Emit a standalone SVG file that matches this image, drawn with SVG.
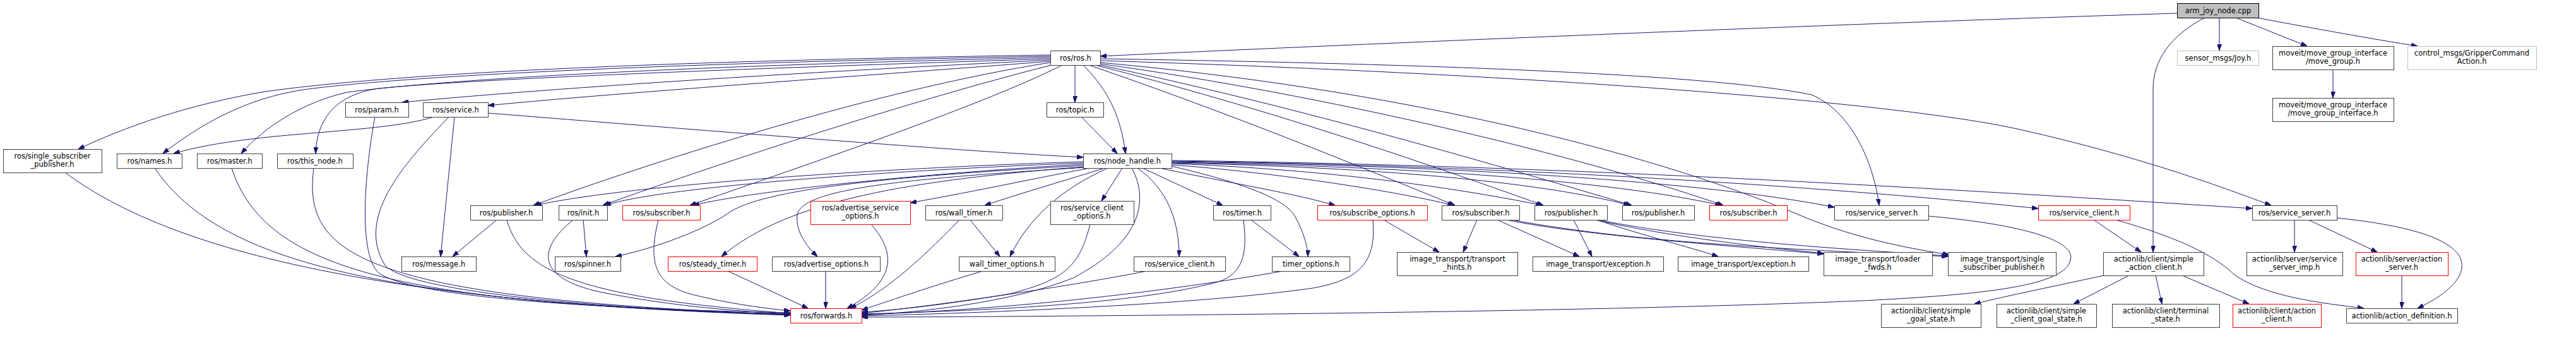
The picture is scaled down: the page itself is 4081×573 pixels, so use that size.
<svg xmlns="http://www.w3.org/2000/svg" width="4081" height="573" viewBox="0 0 4081 573">
<style>
.n rect{fill:#fff;stroke:#404040;stroke-width:1}
.n.r rect{stroke:#ff0000}
.n.g rect{stroke:#bfbfbf}
.n.root rect{fill:#bfbfbf;stroke:#000}
.n text{font-family:"DejaVu Sans","Liberation Sans",sans-serif;font-size:11.5px;text-anchor:middle;fill:#000}
#edges path{fill:none;stroke:#191970;stroke-width:1;marker-end:url(#a)}
</style>
<defs>
<marker id="a" viewBox="0 0 10 7" refX="10" refY="3.5" markerWidth="10" markerHeight="7" markerUnits="userSpaceOnUse" orient="auto"><path d="M0,0L10,3.5L0,7z" fill="#191970" stroke="#191970" stroke-width="1"/></marker>
</defs>
<rect width="4081" height="573" fill="#fff"/>
<g id="edges">
<path d="M3449,21 C2900,38 2100,72 1743,89"/>
<path d="M3516,28 L3516,80"/>
<path d="M3542,28 L3655,73"/>
<path d="M3575,28 C3660,44 3760,62 3830,73"/>
<path d="M3493,28 C3440,55 3411,95 3411,140 L3411,399"/>
<path d="M3696,110 L3696,155"/>
<path d="M1664,87 C1100,96 650,113 420,145 C300,165 200,200 124,236"/>
<path d="M1664,89 C1100,99 660,118 480,142 C390,156 320,195 258,243"/>
<path d="M1664,91 C1100,104 720,124 550,146 C480,162 420,200 382,243"/>
<path d="M1664,93 C1200,108 760,124 600,140 C530,150 502,190 500,243"/>
<path d="M1664,95 C1300,113 900,137 637,162"/>
<path d="M1664,97 C1400,118 1000,145 773,167"/>
<path d="M1703,103 L1703,162"/>
<path d="M1716,103 C1748,135 1775,175 1783,243"/>
<path d="M1713,185 L1770,243"/>
<path d="M773,179 C1100,205 1500,238 1716,249"/>
<path d="M687,185 C640,200 560,205 480,212 C380,220 320,230 275,243"/>
<path d="M720,185 L698,406"/>
<path d="M711,185 C650,250 560,340 610,420 C650,465 1000,492 1252,497"/>
<path d="M594,185 C580,260 565,400 600,432 C660,475 1000,490 1252,495"/>
<path d="M103,273 C300,420 700,482 1252,499"/>
<path d="M245,266 C350,420 620,478 1252,498"/>
<path d="M367,266 C420,430 640,480 1252,498"/>
<path d="M497,266 C480,400 560,472 1252,498"/>
<path d="M1664,99 C1400,140 1050,250 845,325"/>
<path d="M1666,103 C1400,170 1050,290 955,325"/>
<path d="M1683,103 C1550,170 1250,270 1093,325"/>
<path d="M1743,93 C2200,100 2700,115 2870,150 C2940,180 2970,270 2977,325"/>
<path d="M1743,96 C2400,116 3000,160 3200,205 C3400,250 3530,300 3598,325"/>
<path d="M1743,99 C2200,140 2600,235 2850,340 C2920,370 3000,390 3088,403"/>
<path d="M1743,101 C2100,150 2500,245 2730,325"/>
<path d="M1743,103 C2050,168 2350,255 2585,325"/>
<path d="M1735,103 C2000,170 2250,255 2445,325"/>
<path d="M1725,103 C1950,180 2150,262 2305,325"/>
<path d="M1716,256 C1400,266 1000,292 848,325"/>
<path d="M1716,258 C1400,270 1050,296 958,325"/>
<path d="M1716,260 C1500,272 1200,300 1098,325"/>
<path d="M1716,262 C1400,280 1200,300 1150,340 C1100,372 1020,397 975,406"/>
<path d="M1716,264 C1450,285 1250,315 1143,406"/>
<path d="M1720,265 C1450,282 1270,297 1263,340 C1260,368 1280,392 1295,406"/>
<path d="M1727,266 C1650,280 1550,302 1442,321"/>
<path d="M1750,266 C1690,285 1620,305 1560,325"/>
<path d="M1755,266 C1680,300 1630,345 1600,406"/>
<path d="M1778,266 L1745,318"/>
<path d="M1793,266 C1822,320 1805,385 1700,440 C1600,480 1450,495 1365,499"/>
<path d="M1802,266 C1850,300 1868,350 1868,406"/>
<path d="M1810,266 L1937,325"/>
<path d="M1837,266 C1950,290 2050,306 2115,325"/>
<path d="M1856,263 C1950,285 2030,310 2050,340 C2065,365 2072,392 2072,406"/>
<path d="M1856,261 C2000,271 2200,300 2303,325"/>
<path d="M1856,259 C2100,268 2300,296 2443,325"/>
<path d="M1856,258 C2200,265 2450,290 2582,325"/>
<path d="M1856,257 C2250,264 2550,286 2727,325"/>
<path d="M1856,256 C2300,262 2700,287 2906,328"/>
<path d="M1856,255 C2400,262 2900,296 3229,330"/>
<path d="M1856,254 C2500,262 3100,300 3568,330"/>
<path d="M787,348 L717,406"/>
<path d="M803,348 C825,425 900,470 1252,496"/>
<path d="M924,348 L929,406"/>
<path d="M908,348 C850,395 850,440 950,462 C1050,482 1150,492 1252,497"/>
<path d="M1043,348 C1025,420 1040,452 1100,467 C1150,479 1200,487 1252,492"/>
<path d="M1153,429 L1280,488"/>
<path d="M1308,429 L1308,488"/>
<path d="M1380,355 C1420,400 1420,445 1342,488"/>
<path d="M1520,348 C1450,420 1400,462 1347,488"/>
<path d="M1537,348 L1584,406"/>
<path d="M1557,429 C1480,452 1420,472 1365,491"/>
<path d="M1727,355 C1710,420 1690,442 1600,465 C1500,482 1420,491 1365,494"/>
<path d="M1817,429 C1700,452 1500,482 1365,496"/>
<path d="M1970,348 C1975,390 1975,432 1930,446 C1800,482 1550,492 1365,497"/>
<path d="M1982,348 L2058,406"/>
<path d="M2033,429 C1800,470 1550,492 1365,498"/>
<path d="M2175,348 C2180,410 2160,442 2080,456 C1900,482 1550,496 1365,500"/>
<path d="M2192,348 L2280,399"/>
<path d="M2340,348 L2318,399"/>
<path d="M2372,348 L2502,406"/>
<path d="M2387,348 C2500,372 2750,390 2889,402"/>
<path d="M2395,348 C2600,387 2900,397 3086,406"/>
<path d="M2493,348 L2522,406"/>
<path d="M2530,348 C2600,372 2680,392 2722,406"/>
<path d="M2527,348 C2650,376 2800,392 2889,401"/>
<path d="M2532,348 C2700,382 2950,396 3086,405"/>
<path d="M3055,342 C3200,355 3290,380 3280,412 C3270,452 3150,466 2950,476 C2500,495 1700,501 1365,502"/>
<path d="M3317,348 L3392,399"/>
<path d="M3352,348 C3450,376 3505,402 3540,435 C3590,470 3680,480 3745,488"/>
<path d="M3333,436 C3260,452 3180,468 3128,481"/>
<path d="M3373,436 L3285,481"/>
<path d="M3415,436 L3425,481"/>
<path d="M3457,436 L3563,481"/>
<path d="M3635,348 L3635,399"/>
<path d="M3657,348 L3766,399"/>
<path d="M3702,345 C3850,360 3925,392 3893,442 C3875,466 3850,478 3830,488"/>
<path d="M3805,436 L3805,488"/>
</g>
<g id="n_root" class="n root"><rect x="3449.5" y="5.5" width="129" height="23"/><text x="3514" y="21">arm_joy_node.cpp</text></g>
<g id="n_ros" class="n"><rect x="1664.5" y="80.5" width="79" height="23"/><text x="1704" y="96">ros/ros.h</text></g>
<g id="n_joy" class="n g"><rect x="3449.5" y="80.5" width="129" height="23"/><text x="3514" y="96">sensor_msgs/Joy.h</text></g>
<g id="n_mg" class="n"><rect x="3600.5" y="73.5" width="192" height="37"/><text x="3696" y="88">moveit/move_group_interface</text><text x="3696" y="101">/move_group.h</text></g>
<g id="n_grip" class="n g"><rect x="3814.5" y="73.5" width="204" height="37"/><text x="3916" y="88">control_msgs/GripperCommand</text><text x="3916" y="101">Action.h</text></g>
<g id="n_mgi" class="n"><rect x="3600.5" y="155.5" width="192" height="37"/><text x="3696" y="170">moveit/move_group_interface</text><text x="3696" y="183">/move_group_interface.h</text></g>
<g id="n_param" class="n"><rect x="547.5" y="162.5" width="100" height="23"/><text x="597" y="178">ros/param.h</text></g>
<g id="n_service" class="n"><rect x="670.5" y="162.5" width="103" height="23"/><text x="722" y="178">ros/service.h</text></g>
<g id="n_topic" class="n"><rect x="1658.5" y="162.5" width="90" height="23"/><text x="1703" y="178">ros/topic.h</text></g>
<g id="n_ssp1" class="n"><rect x="5.5" y="236.5" width="156" height="37"/><text x="83" y="251">ros/single_subscriber</text><text x="83" y="264">_publisher.h</text></g>
<g id="n_names" class="n"><rect x="185.5" y="243.5" width="103" height="23"/><text x="237" y="259">ros/names.h</text></g>
<g id="n_master" class="n"><rect x="312.5" y="243.5" width="103" height="23"/><text x="364" y="259">ros/master.h</text></g>
<g id="n_thisnode" class="n"><rect x="439.5" y="243.5" width="120" height="23"/><text x="499" y="259">ros/this_node.h</text></g>
<g id="n_nh" class="n"><rect x="1716.5" y="243.5" width="140" height="23"/><text x="1786" y="259">ros/node_handle.h</text></g>
<g id="n_pub1" class="n"><rect x="745.5" y="325.5" width="114" height="23"/><text x="802" y="341">ros/publisher.h</text></g>
<g id="n_init" class="n"><rect x="885.5" y="325.5" width="77" height="23"/><text x="924" y="341">ros/init.h</text></g>
<g id="n_sub1" class="n r"><rect x="986.5" y="325.5" width="123" height="23"/><text x="1048" y="341">ros/subscriber.h</text></g>
<g id="n_aso" class="n r"><rect x="1284.5" y="318.5" width="158" height="37"/><text x="1363" y="333">ros/advertise_service</text><text x="1363" y="346">_options.h</text></g>
<g id="n_wt" class="n"><rect x="1466.5" y="325.5" width="122" height="23"/><text x="1527" y="341">ros/wall_timer.h</text></g>
<g id="n_sco" class="n"><rect x="1664.5" y="318.5" width="132" height="37"/><text x="1730" y="333">ros/service_client</text><text x="1730" y="346">_options.h</text></g>
<g id="n_timer" class="n"><rect x="1922.5" y="325.5" width="91" height="23"/><text x="1968" y="341">ros/timer.h</text></g>
<g id="n_subo" class="n r"><rect x="2087.5" y="325.5" width="174" height="23"/><text x="2174" y="341">ros/subscribe_options.h</text></g>
<g id="n_sub2" class="n"><rect x="2284.5" y="325.5" width="123" height="23"/><text x="2346" y="341">ros/subscriber.h</text></g>
<g id="n_pub2" class="n"><rect x="2431.5" y="325.5" width="115" height="23"/><text x="2489" y="341">ros/publisher.h</text></g>
<g id="n_pub3" class="n"><rect x="2570.5" y="325.5" width="114" height="23"/><text x="2627" y="341">ros/publisher.h</text></g>
<g id="n_sub3" class="n r"><rect x="2708.5" y="325.5" width="123" height="23"/><text x="2770" y="341">ros/subscriber.h</text></g>
<g id="n_ss1" class="n"><rect x="2906.5" y="325.5" width="149" height="23"/><text x="2981" y="341">ros/service_server.h</text></g>
<g id="n_sc2" class="n r"><rect x="3229.5" y="325.5" width="145" height="23"/><text x="3302" y="341">ros/service_client.h</text></g>
<g id="n_ss2" class="n"><rect x="3568.5" y="325.5" width="134" height="23"/><text x="3635" y="341">ros/service_server.h</text></g>
<g id="n_msg" class="n"><rect x="636.5" y="406.5" width="118" height="23"/><text x="695" y="422">ros/message.h</text></g>
<g id="n_spin" class="n"><rect x="879.5" y="406.5" width="104" height="23"/><text x="931" y="422">ros/spinner.h</text></g>
<g id="n_st" class="n r"><rect x="1058.5" y="406.5" width="141" height="23"/><text x="1129" y="422">ros/steady_timer.h</text></g>
<g id="n_ao" class="n"><rect x="1223.5" y="406.5" width="171" height="23"/><text x="1309" y="422">ros/advertise_options.h</text></g>
<g id="n_wto" class="n"><rect x="1519.5" y="406.5" width="152" height="23"/><text x="1595" y="422">wall_timer_options.h</text></g>
<g id="n_sc" class="n"><rect x="1796.5" y="406.5" width="145" height="23"/><text x="1869" y="422">ros/service_client.h</text></g>
<g id="n_to" class="n"><rect x="2015.5" y="406.5" width="123" height="23"/><text x="2077" y="422">timer_options.h</text></g>
<g id="n_th" class="n"><rect x="2213.5" y="399.5" width="191" height="37"/><text x="2309" y="414">image_transport/transport</text><text x="2309" y="427">_hints.h</text></g>
<g id="n_ex1" class="n"><rect x="2428.5" y="406.5" width="207" height="23"/><text x="2532" y="422">image_transport/exception.h</text></g>
<g id="n_ex2" class="n"><rect x="2658.5" y="406.5" width="207" height="23"/><text x="2762" y="422">image_transport/exception.h</text></g>
<g id="n_lf" class="n"><rect x="2889.5" y="399.5" width="172" height="37"/><text x="2975" y="414">image_transport/loader</text><text x="2975" y="427">_fwds.h</text></g>
<g id="n_ssp2" class="n"><rect x="3086.5" y="399.5" width="171" height="37"/><text x="3172" y="414">image_transport/single</text><text x="3172" y="427">_subscriber_publisher.h</text></g>
<g id="n_sac" class="n"><rect x="3332.5" y="399.5" width="159" height="37"/><text x="3412" y="414">actionlib/client/simple</text><text x="3412" y="427">_action_client.h</text></g>
<g id="n_ssi" class="n"><rect x="3559.5" y="399.5" width="152" height="37"/><text x="3635" y="414">actionlib/server/service</text><text x="3635" y="427">_server_imp.h</text></g>
<g id="n_as" class="n r"><rect x="3732.5" y="399.5" width="146" height="37"/><text x="3805" y="414">actionlib/server/action</text><text x="3805" y="427">_server.h</text></g>
<g id="n_fwd" class="n r"><rect x="1252.5" y="488.5" width="113" height="23"/><text x="1309" y="504">ros/forwards.h</text></g>
<g id="n_sgs" class="n"><rect x="2980.5" y="481.5" width="158" height="37"/><text x="3059" y="496">actionlib/client/simple</text><text x="3059" y="509">_goal_state.h</text></g>
<g id="n_scgs" class="n"><rect x="3163.5" y="481.5" width="158" height="37"/><text x="3242" y="496">actionlib/client/simple</text><text x="3242" y="509">_client_goal_state.h</text></g>
<g id="n_ts" class="n"><rect x="3346.5" y="481.5" width="170" height="37"/><text x="3431" y="496">actionlib/client/terminal</text><text x="3431" y="509">_state.h</text></g>
<g id="n_ac" class="n r"><rect x="3537.5" y="481.5" width="140" height="37"/><text x="3607" y="496">actionlib/client/action</text><text x="3607" y="509">_client.h</text></g>
<g id="n_ad" class="n"><rect x="3717.5" y="488.5" width="176" height="23"/><text x="3805" y="504">actionlib/action_definition.h</text></g>
</svg>
